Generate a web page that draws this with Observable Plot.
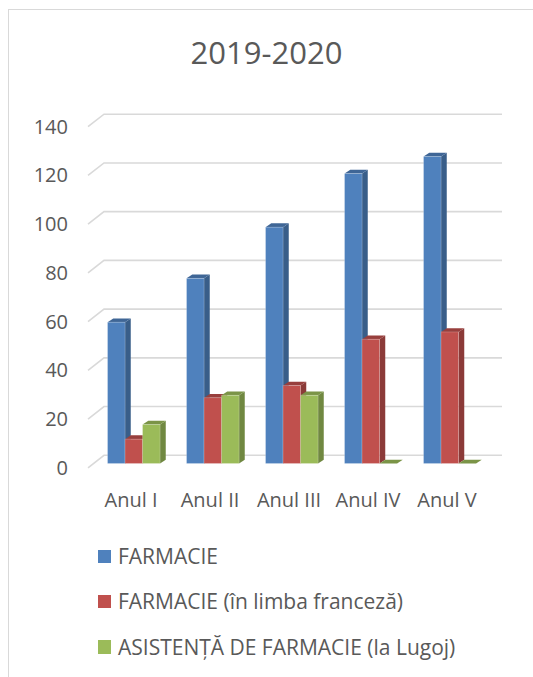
<!DOCTYPE html>
<html>
<head>
<meta charset="utf-8">
<script src="https://cdn.jsdelivr.net/npm/d3@7"></script>
<script src="https://cdn.jsdelivr.net/npm/@observablehq/plot@0.6"></script>
<style>
  html, body { margin: 0; padding: 0; background: #fff; }
  body { width: 533px; height: 677px; position: relative; overflow: hidden; font-family: "Open Sans", sans-serif; color: #595959; }
  #frame { position: absolute; left: 8px; top: 9px; width: 620px; height: 720px; border: 1px solid #d9d9d9; box-sizing: border-box; }
  #title { position: absolute; left: 0; top: 30.7px; width: 533px; text-align: center; font-size: 31px; line-height: 42px; color: #595959; }
  #chart { position: absolute; left: 0; top: 100px; }
  .legend-row { position: absolute; left: 98px; display: flex; align-items: center; height: 28.6px; font-size: 21px; line-height: 28.6px; color: #595959; white-space: nowrap; }
  .legend-row .sw { width: 13.4px; height: 13.4px; margin-right: 6.6px; }
</style>
</head>
<body>
<div id="frame"></div>
<div id="title">2019-2020</div>
<div id="chart"></div>
<div id="legend"></div>
<script>
// ---- data ----
const categories = ["Anul I", "Anul II", "Anul III", "Anul IV", "Anul V"];
const seriesNames = ["FARMACIE", "FARMACIE (în limba franceză)", "ASISTENȚĂ DE FARMACIE (la Lugoj)"];
const farmacie = [58, 76, 97, 119, 126];
const farmacieFr = [10, 27, 32, 51, 54];
const asistenta = [16, 28, 28, 0, 0];
const yTicks = [0, 20, 40, 60, 80, 100, 120, 140];
const colors = ["#4f81bd", "#c0504d", "#9bbb59"];

const seriesValues = [farmacie, farmacieFr, asistenta];
const data = categories.flatMap((c, i) =>
  seriesValues.map((vals, s) => ({category: c, series: seriesNames[s], s, value: vals[i]}))
);

// 3D geometry (pixels)
const depthX = 16, depthY = -12.5;      // wall depth for gridlines
const barW = 17.5, barShift = 3.3, barLift = 4.3, barDX = 5.7, barDY = -3.8;

function gridRender(index, scales, values, dims) {
  const g = d3.create("svg:g");
  const xL = dims.marginLeft;
  const xR = dims.width - dims.marginRight;
  for (const i of index) {
    const y = scales.y(yTicks[i]);
    g.append("path")
      .attr("d", `M${xL},${y}L${xL + depthX},${y + depthY}L${xR},${y + depthY}`)
      .attr("fill", "none")
      .attr("stroke", "#d9d9d9")
      .attr("stroke-width", 1.6);
  }
  return g.node();
}

function barRender(index, scales, values, dims) {
  const g = d3.create("svg:g");
  const step = scales.x(categories[1]) - scales.x(categories[0]);
  const y0 = scales.y(0) - barLift;
  for (const i of index) {
    const d = data[i];
    const cx = scales.x(d.category) + step / 2 + barShift;
    const x1 = cx + (d.s - 1.5) * barW;
    const x2 = x1 + barW;
    const top = scales.y(d.value) - barLift;
    const base = d3.color(scales.color(d.series));
    const side = base.darker(0.9).formatHex();
    const topC = base.darker(0.65).formatHex();
    // side face
    g.append("path")
      .attr("d", `M${x2},${top}L${x2 + barDX},${top + barDY}L${x2 + barDX},${y0 + barDY}L${x2},${y0}Z`)
      .attr("fill", side);
    // top face
    g.append("path")
      .attr("d", `M${x1},${top}L${x1 + barDX},${top + barDY}L${x2 + barDX},${top + barDY}L${x2},${top}Z`)
      .attr("fill", topC);
    // front face
    if (y0 - top > 0) {
      g.append("rect")
        .attr("x", x1).attr("y", top)
        .attr("width", barW).attr("height", y0 - top)
        .attr("fill", base.formatHex())
        .attr("stroke", "rgba(255,255,255,0.25)")
        .attr("stroke-width", 0.8);
    }
  }
  return g.node();
}

const chart = Plot.plot({
  width: 533,
  height: 420,
  marginLeft: 88,
  marginRight: 31,
  marginTop: 26.7,
  marginBottom: 52.2,
  style: {fontFamily: "Open Sans", fontSize: "20px", color: "#595959", background: "transparent"},
  x: {domain: categories, range: [90.5, 486.5], padding: 0, label: null},
  y: {domain: [0, 140], label: null},
  color: {domain: seriesNames, range: colors},
  marks: [
    Plot.ruleY(yTicks, {y: d => d, render: gridRender}),
    Plot.barY(data, {x: "category", y1: 0, y2: "value", fill: "series", render: barRender}),
    Plot.axisY(yTicks, {tickSize: 0, tickPadding: 20.5, fontSize: 20, label: null}),
    Plot.axisX({tickSize: 0, tickPadding: 24, fontSize: 20, label: null})
  ]
});
document.getElementById("chart").appendChild(chart);

// legend
const legendTops = [542.05, 587.35, 632.85];
const legend = document.getElementById("legend");
seriesNames.forEach((name, s) => {
  const row = document.createElement("div");
  row.className = "legend-row";
  row.style.top = legendTops[s] + "px";
  const sw = document.createElement("span");
  sw.className = "sw";
  sw.style.background = colors[s];
  const t = document.createElement("span");
  t.textContent = name;
  row.appendChild(sw);
  row.appendChild(t);
  legend.appendChild(row);
});
</script>
</body>
</html>
